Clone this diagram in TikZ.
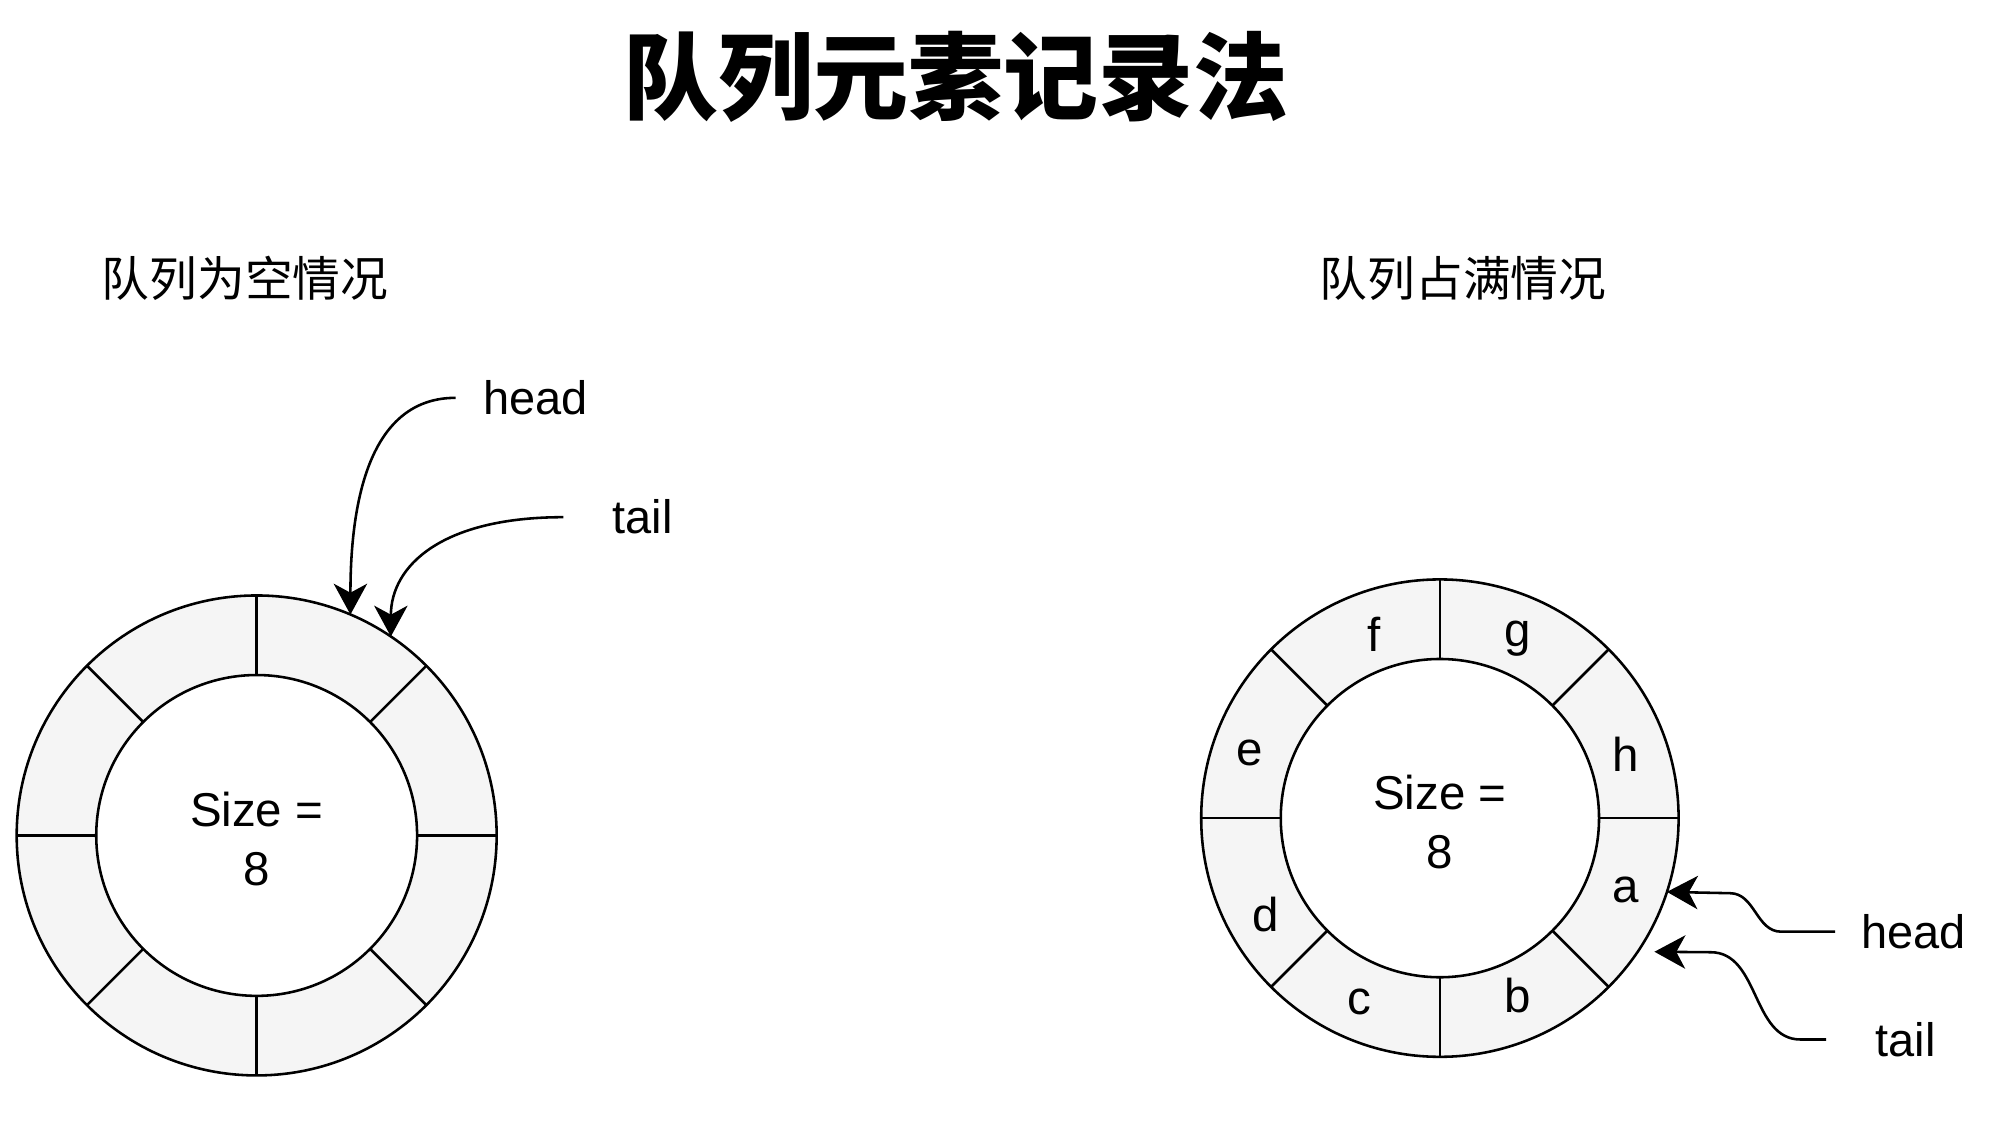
\documentclass[tikz,border=0pt]{standalone}
\usepackage{fontspec}
\setmainfont{Liberation Sans}
\newfontfamily\cjk{Noto Sans CJK SC}
\usetikzlibrary{arrows.meta,positioning}

\definecolor{cellgray}{HTML}{F5F5F5}

\tikzset{
  ring/.style={circle, draw, line width=1pt, inner sep=0pt, outer sep=0pt},
  caption/.style={font=\cjk\fontsize{18.6}{22}\selectfont, inner sep=0pt, anchor=west},
  tag/.style={font=\fontsize{18.3}{22}\selectfont, inner sep=0pt, anchor=west},
  cell/.style={font=\fontsize{18.5}{23}\selectfont, inner sep=0pt},
  ptr/.style={line width=1pt, -{Stealth[length=12pt,width=13pt,inset=3.5pt]}},
}

\begin{document}
\begin{tikzpicture}[x=0.5pt, y=-0.5pt]

  \useasboundingbox (0,0) rectangle (1560,893);

  \node [font=\cjk\bfseries\fontsize{37}{40}\selectfont] (title) at (745,60) {队列元素记录法};

  \node [caption] (emptyTitle) at (79,217) {队列为空情况};
  \node [caption] (fullTitle) at (1028,217) {队列占满情况};

  % empty queue
  \node [ring, fill=cellgray, minimum size=187pt] (emptyOut) at (200,651) {};
  \node [ring, fill=white, minimum size=125pt] (emptyIn) at (emptyOut) {};
  \foreach \a in {0,45,...,315}
    \draw [line width=1pt] (emptyIn.\a) -- (emptyOut.\a);
  \node [cell, align=center, yshift=-1.5pt] (emptySize) at (emptyOut) {Size =\\8};

  \node [tag] (emptyHead) at (376,310) {head};
  \node [tag] (emptyTail) at (477,403) {tail};

  \draw [ptr] ([xshift=-10.5pt]emptyHead.west) .. controls +(-62,0) and +(0,-100) .. (emptyOut.67);
  \draw [ptr] ([xshift=-19pt]emptyTail.west) .. controls +(-95,0) and +(0,-55) .. (emptyOut.56.5);

  % full queue
  \node [ring, fill=cellgray, minimum size=186pt] (fullOut) at (1122,637.5) {};
  \node [ring, fill=white, minimum size=124pt] (fullIn) at (fullOut) {};
  \foreach \a in {0,45,...,315}
    \draw [line width=1pt] (fullIn.\a) -- (fullOut.\a);
  \node [cell, align=center, yshift=-1.5pt] (fullSize) at (fullOut) {Size =\\8};

  \foreach \dx/\dy/\t in {145/56/a, 61/138/b, -63/143/c, -136/75/d, -148/-51/e, -51/-143/f, 61/-140/g, 145/-50/h}
    \node [cell] (cell-\t) at ([shift={(\dx,\dy)}]fullOut.center) {\t};

  \node [tag] (fullHead) at (1450,726) {head};
  \node [tag] (fullTail) at (1461,810) {tail};

  \draw [ptr] ([xshift=-10pt]fullHead.west) -- ++(-42,0) to[out=180,in=0] ++(-40,-30) -- (fullOut.-18);
  \draw [ptr, shorten >=6.5pt] ([xshift=-19pt]fullTail.west) -- ++(-20,0) to[out=180,in=0] ++(-70,-68) -- (fullOut.-34);

\end{tikzpicture}
\end{document}
